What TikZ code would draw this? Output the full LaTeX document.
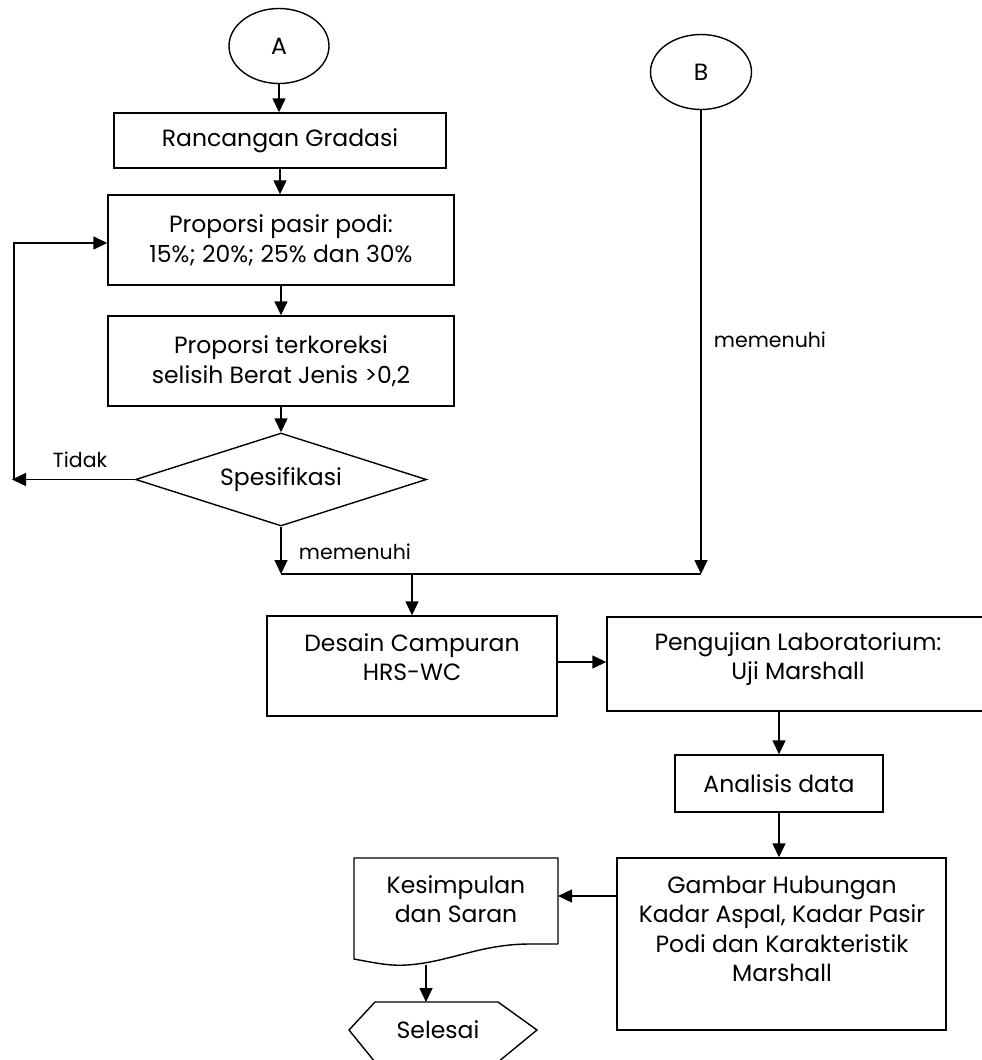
\documentclass[tikz,border=0pt]{standalone}
\usepackage{fontspec}
\setmainfont{Poppins}
\usetikzlibrary{shapes.geometric,arrows.meta}
\begin{document}
\begin{tikzpicture}[x=1pt,y=-1pt,
  line width=1.4pt,
  arr/.style={-{Triangle[length=14pt,width=13pt]}},
  box/.style={draw, rectangle, inner sep=0pt, align=center, font=\fontsize{23.5}{30}\selectfont},
  txt/.style={align=center, inner sep=0pt, font=\fontsize{23.5}{29.5}\selectfont},
  lbl/.style={inner sep=0pt, font=\fontsize{20.5}{24}\selectfont}]
\useasboundingbox (0,0) rectangle (982,1060);
% connectors A / B
\node[draw, ellipse, minimum width=100, minimum height=75, inner sep=0pt, font=\fontsize{23.5}{30}\selectfont] (A) at (279,46) {A};
\node[draw, ellipse, minimum width=101, minimum height=75, inner sep=0pt, font=\fontsize{23.5}{30}\selectfont] (B) at (701,72) {B};
% left column
\node[box, minimum width=332, minimum height=55] (rg) at (280,140.5) {Rancangan Gradasi};
\node[box, minimum width=346, minimum height=90] (pp) at (281,240) {Proporsi pasir podi:\\15\%; 20\%; 25\% dan 30\%};
\node[box, minimum width=346, minimum height=90] (pt) at (281,361) {Proporsi terkoreksi\\selisih Berat Jenis >0,2};
\node[draw, diamond, aspect=3.1, minimum width=291, minimum height=93, inner sep=0pt, font=\fontsize{23.5}{30}\selectfont] (sp) at (281,479.5) {Spesifikasi};
% merge line
\coordinate (tA) at (14,479.5);
\coordinate (j1) at (281,574);
\coordinate (j2) at (701,574);
\coordinate (jm) at (412,574);
% lower boxes
\node[box, minimum width=290, minimum height=100] (dc) at (412,666) {};
\node[txt] (dct) at (412,657) {Desain Campuran\\HRS-WC};
\node[box, minimum width=379, minimum height=94] (pl) at (796.5,664) {};
\node[txt] (plt) at (798,659) {Pengujian Laboratorium:\\Uji Marshall};
\node[box, minimum width=208, minimum height=57] (an) at (779,783.5) {Analisis data};
\node[box, minimum width=329, minimum height=172] (gh) at (781.5,944) {};
\node[txt] (ght) at (782,929) {Gambar Hubungan\\Kadar Aspal, Kadar Pasir\\Podi dan Karakteristik\\Marshall};
% document shape
\draw (558,944) -- (558,858) -- (354,858) -- (354,959)
  .. controls (380,964) and (392,966) .. (407,965)
  .. controls (450,962) and (480,944) .. (530,944) -- (558,944);
\node[txt] (ks) at (456,899) {Kesimpulan\\dan Saran};
\coordinate (ksE) at (558,896);
\coordinate (ksS) at (426,964.5);
% terminator hexagon
\draw (349,1030) -- (375,1002) -- (498,1002) -- (537,1030) -- (498,1062) -- (375,1062) -- cycle;
\node[txt] (sl) at (438,1030) {Selesai};
\coordinate (slN) at (426,1002);
% labels
\node[lbl] (ltidak) at (80,460) {Tidak};
\node[lbl] (lmem1) at (355,552) {memenuhi};
\node[lbl] (lmem2) at (770,340) {memenuhi};
% arrows
\draw[arr] (A) -- (A.south |- rg.north);
\draw[arr] (rg) -- (rg.south |- pp.north);
\draw[arr] (pp) -- (pt);
\draw[arr] (pt) -- (sp);
\draw[arr] (sp.west) -- (12,479.5);
\draw[arr] (tA) |- ([yshift=-3pt]pp.west);
\draw[arr] (sp.south) -- (j1);
\draw[arr] (B) -- (j2);
\draw (j1) -- (j2);
\draw[arr] (jm) -- (dc.north);
\draw[arr] ([yshift=4pt]dc.east) -- ([yshift=4pt]dc.east -| pl.west);
\draw[arr] (an.north |- pl.south) -- (an.north);
\draw[arr] (an.south) -- (an.south |- gh.north);
\draw[arr] (gh.west |- ksE) -- (ksE);
\draw[arr] (ksS) -- (slN);
\end{tikzpicture}
\end{document}
